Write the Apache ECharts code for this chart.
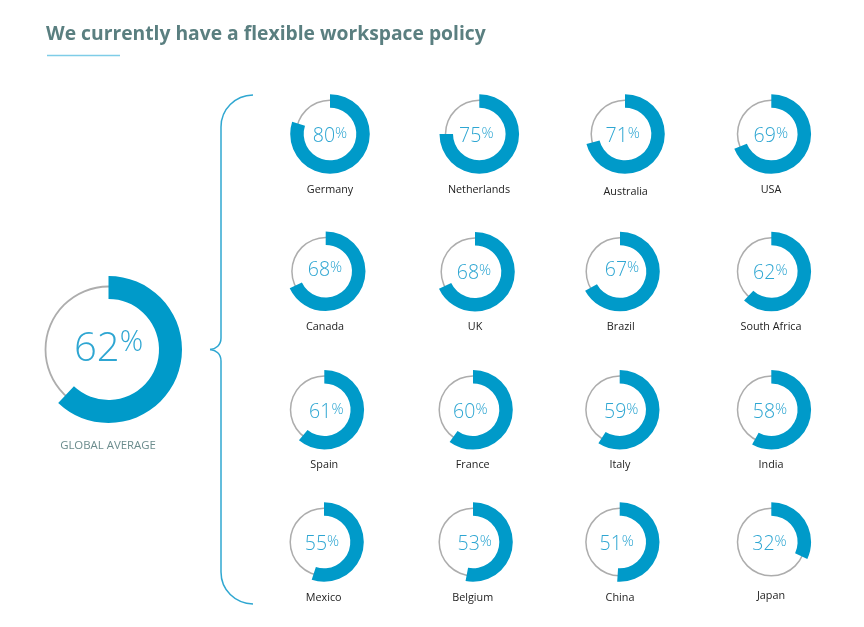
<!DOCTYPE html>
<html><head><meta charset="utf-8">
<style>html,body{margin:0;padding:0;background:#fff}#c{width:864px;height:627px}</style>
<script src="https://cdn.jsdelivr.net/npm/echarts@6/dist/echarts.min.js"></script>
</head><body><div id="c"></div>
<script>
// ---- data ----
const countries = ['Germany','Netherlands','Australia','USA','Canada','UK','Brazil','South Africa','Spain','France','Italy','India','Mexico','Belgium','China','Japan'];
const shares = [80,75,71,69,68,68,67,62,61,60,59,58,55,53,51,32];
const globalShare = 62;
const globalLabel = 'GLOBAL AVERAGE';
const titleText = 'We currently have a flexible workspace policy';

// ---- layout (separate from data) ----
const donutCentres = [[330,134],[479.3,134],[625,134],[771.3,134],[325.7,271.3],[475,271.7],[620,271.5],[771.3,271.5],[324.3,409.7],[473,409.7],[619.7,409.7],[771.3,409.7],[324,542],[473,542],[619.7,542],[771.3,542]];
const nameAnchors = [[330,189.5],[479,189.5],[625.7,191.5],[771,189.5],[325,327],[475,327],[620.7,327],[771,327],[324.3,465],[472.7,465],[620,465],[771,465],[323.7,598],[472.7,598],[620,598],[771,595.5]];
const labelShift = [[0,2],[-3,2],[-2.3,2],[-0.5,2.7],[-0.7,-1],[-1,2],[2,-1],[-1,2],[2,2.3],[-2.7,2.3],[1.5,2.3],[-1.3,2.3],[-2,2.3],[1.7,2.3],[-3,2.3],[-1.8,2.3]];
const BLUE='#009ac9', GREY='#adadad', TXT='#2ea6d2';
const font='"Open Sans", Lato, sans-serif';

function donut(value,c,R,r,gr,gw,big,small,pad,shift){
  const rich={a:{fontFamily:font,fontWeight:300,fontSize:big,color:TXT},
              b:{fontFamily:font,fontWeight:300,fontSize:small,color:TXT,verticalAlign:'bottom',padding:[0,0,pad,0]}};
  return [
   {type:'pie',silent:true,animation:false,center:c,radius:[gr-gw/2,gr+gw/2],startAngle:90,label:{show:false},labelLine:{show:false},
    itemStyle:{color:GREY},data:[{value:100}]},
   {type:'pie',silent:true,animation:false,center:c,radius:[r,R],startAngle:90,clockwise:true,avoidLabelOverlap:false,labelLine:{show:false},
    label:{show:false},
    data:[{value:value,itemStyle:{color:BLUE},
           label:{show:true,position:'center',offset:shift,formatter:'{a|'+value+'}{b|%}',rich:rich}},
          {value:100-value,itemStyle:{color:'rgba(0,0,0,0)'}}]}
  ];
}
let series=donut(globalShare,[108.5,349.5],73.5,50.5,63,1.8,40,29,13,[0,0]);
shares.forEach((v,i)=>{series=series.concat(donut(v,donutCentres[i],39.8,26.3,33.8,1.5,19.5,15,5,labelShift[i]));});

const lineStyle={stroke:'#2fa7d1',lineWidth:1.5,fill:null};
const curve=(x1,y1,a,b,c,d,x2,y2)=>({type:'bezierCurve',silent:true,shape:{x1,y1,cpx1:a,cpy1:b,cpx2:c,cpy2:d,x2,y2},style:lineStyle});
const seg=(x1,y1,x2,y2)=>({type:'line',silent:true,shape:{x1,y1,x2,y2},style:lineStyle});
const brace=[
  curve(253,95,235,95.5,221,109,221,127),
  seg(221,127,221,338),
  curve(221,338,221,345,216,349,210,349.5),
  curve(210,349.5,216,350,221,354,221,361),
  seg(221,361,221,572),
  curve(221,572,221,590,235,603.5,253,604)
];
const texts=countries.map((n,i)=>({type:'text',silent:true,x:nameAnchors[i][0],y:nameAnchors[i][1],
  style:{text:n,font:'400 10.8px '+font,fill:'#222',textAlign:'center',textVerticalAlign:'middle'}}));
texts.push({type:'text',silent:true,x:108,y:445.5,style:{text:globalLabel,font:'400 11.4px '+font,fill:'#6b8c8d',textAlign:'center',textVerticalAlign:'middle'}});
texts.push({type:'text',silent:true,x:46,y:35,style:{text:titleText,font:'700 19.3px '+font,fill:'#5a7f80',textAlign:'left',textVerticalAlign:'middle'}});
const underline={type:'line',silent:true,shape:{x1:47,y1:55.5,x2:120,y2:55.5},style:{stroke:'#7fcde8',lineWidth:1.3}};

const chart=echarts.init(document.getElementById('c'),null,{renderer:'canvas'});
chart.setOption({animation:false,backgroundColor:'#fff',series:series,graphic:{elements:[...brace,underline,...texts]}});
</script></body></html>
